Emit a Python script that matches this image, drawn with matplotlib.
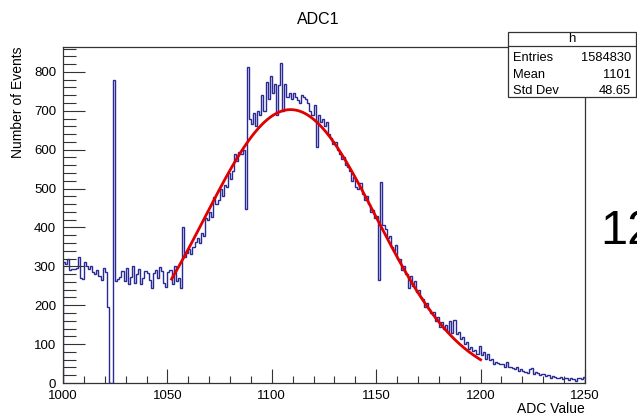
import numpy as np
import matplotlib
matplotlib.use("Agg")
import matplotlib.pyplot as plt
from matplotlib.patches import Rectangle
from matplotlib.lines import Line2D
from matplotlib.ticker import MultipleLocator

plt.rcParams['font.family'] = ['Liberation Sans', 'DejaVu Sans']

# ---- data ----
bin_edges_range = (1000, 1250)
counts = [
    310, 305, 320, 290, 292, 292, 295, 325, 270, 268, 310, 300, 292, 300, 285, 280, 290, 275, 265, 295, 285, 195, 0, 0, 780,
    262, 268, 272, 288, 262, 295, 255, 272, 300, 258, 280, 292, 255, 270, 288, 282, 265, 245, 282, 290, 270, 298, 288, 258, 248,
    285, 290, 255, 300, 262, 270, 245,
    400,
    325, 335, 345, 332, 350, 362, 372, 360, 385, 378,
    425, 420, 440, 428, 478, 460, 470, 500, 482, 510,
    505, 540, 525, 545, 590, 570, 595, 590, 600, 447,
    812,
    680, 665, 695, 660, 700, 690,
    740, 700, 775, 730, 790, 745, 770, 690, 765, 822,
    700, 770, 735, 745, 730, 745, 735, 728, 720, 740,
    735, 730, 720, 700, 690, 715, 607, 690, 670, 680,
    660, 672, 640, 630, 615, 620, 600, 590, 575, 580,
    560, 555, 545, 520, 530, 505, 500, 515, 485, 470,
    480, 460, 440, 445, 425, 430,
    265, 517,
    405, 395, 372, 378, 350, 340, 355, 318, 320, 290,
    300, 280, 245, 275, 250, 262, 235, 240, 220, 215,
    195, 205, 190, 180, 182, 160, 170, 145, 158, 140,
    150, 130, 160, 128, 162, 125, 132, 112, 118, 100,
    105, 88, 92, 82, 85, 75, 95, 72, 80, 62,
    75, 60, 62, 50, 55, 52, 48, 50, 42, 55,
    40, 42, 38, 35, 40, 30, 35, 32, 28, 25,
    35, 38, 22, 28, 25, 20, 24, 22, 18, 20,
    14, 18, 15, 14, 12, 16, 10, 14, 12, 8,
    12, 10, 6, 12, 14, 10, 15,
]
assert len(counts) == 250

# Gaussian fit parameters (constant, mean, sigma) and fit range
fit_const = 703.0
fit_mean = 1109.0
fit_sigma = 41.0
fit_range = (1052, 1200)

stats_name = "h"
stats_labels = ["Entries", "Mean", "Std Dev"]
stats_values = ["1584830", "1101", "48.65"]

# ---- figure ----
W, H = 637, 415
fig = plt.figure(figsize=(W / 100, H / 100), dpi=100)
L, R, B, T = 63, 585, 383, 47
ax = fig.add_axes([L / W, (H - B) / H, (R - L) / W, (B - T) / H])

edges = np.linspace(bin_edges_range[0], bin_edges_range[1], len(counts) + 1)
ax.stairs(counts, edges, color='#2a2a94', linewidth=1.0)

xf = np.linspace(fit_range[0], fit_range[1], 400)
yf = fit_const * np.exp(-0.5 * ((xf - fit_mean) / fit_sigma) ** 2)
ax.plot(xf, yf, color='#e00000', linewidth=2.0)

ax.set_xlim(1000, 1250)
ax.set_ylim(0, 864)
ax.xaxis.set_major_locator(MultipleLocator(50))
ax.xaxis.set_minor_locator(MultipleLocator(10))
ax.yaxis.set_major_locator(MultipleLocator(100))
ax.yaxis.set_minor_locator(MultipleLocator(20))
ax.tick_params(axis='both', which='both', direction='in', top=False, right=False,
               color='#333333', labelsize=9.5, width=0.8)
ax.tick_params(axis='x', which='major', length=10, pad=5)
ax.tick_params(axis='x', which='minor', length=5)
ax.tick_params(axis='y', which='major', length=16, pad=5)
ax.tick_params(axis='y', which='minor', length=9)
for s in ax.spines.values():
    s.set_color('#333333')
    s.set_linewidth(0.9)

fig.text(318 / W, 1 - 20 / H, "ADC1", ha='center', va='center', fontsize=11.5)
fig.text(18 / W, 1 - 46 / H, "Number of Events", rotation=90, ha='center', va='top', fontsize=10)
fig.text(585 / W, 1 - 409 / H, "ADC Value", ha='right', va='center', fontsize=10)

# stats box
bx0, bx1, by0, by1, bsep = 508, 636, 32, 97, 46
fig.patches.append(Rectangle((bx0 / W, 1 - by1 / H), (bx1 - bx0) / W, (by1 - by0) / H,
                             transform=fig.transFigure, facecolor='white',
                             edgecolor='#333333', linewidth=0.9, zorder=5))
fig.lines.append(Line2D([bx0 / W, bx1 / W], [1 - bsep / H, 1 - bsep / H],
                        transform=fig.transFigure, color='#333333', linewidth=0.9, zorder=6))
fig.text((bx0 + bx1) / 2 / W, 1 - 39 / H, stats_name, ha='center', va='center', fontsize=9.5, zorder=7)
for i, (lab, val) in enumerate(zip(stats_labels, stats_values)):
    yy = 1 - (58 + i * 16.5) / H
    fig.text(513 / W, yy, lab, ha='left', va='center', fontsize=9.3, zorder=7)
    fig.text(631 / W, yy, val, ha='right', va='center', fontsize=9.3, zorder=7)

# large text clipped at the right edge, as in the reference
fig.text(600 / W, 1 - 244 / H, "12", ha='left', va='baseline', fontsize=35)

fig.savefig("out.png", dpi=100)
